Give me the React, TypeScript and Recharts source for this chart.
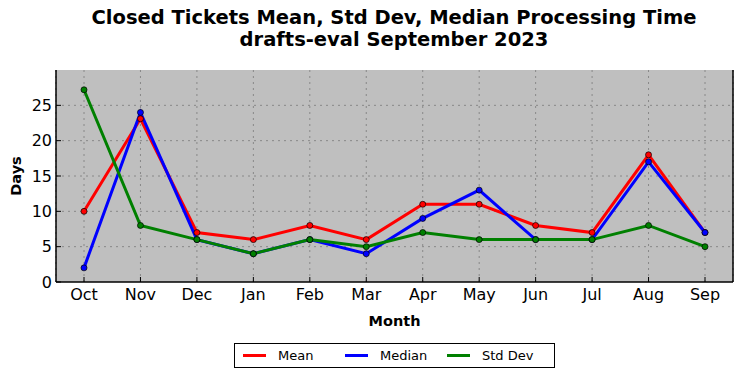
import React from 'react';
import { LineChart, Line, XAxis, YAxis, CartesianGrid, Legend } from 'recharts';

const months = ['Oct', 'Nov', 'Dec', 'Jan', 'Feb', 'Mar', 'Apr', 'May', 'Jun', 'Jul', 'Aug', 'Sep'];
const meanDays = [10, 23.1, 7, 6, 8, 6, 11, 11, 8, 7, 18, 7];
const medianDays = [2, 24, 6, 4, 6, 4, 9, 13, 6, 6, 17, 7];
const stdDevDays = [27.2, 8, 6, 4, 6, 5, 7, 6, 6, 6, 8, 5];
const yTicks = [0, 5, 10, 15, 20, 25];

const data = months.map((month, i) => ({
  month,
  mean: meanDays[i],
  median: medianDays[i],
  std: stdDevDays[i],
}));

const font = '"DejaVu Sans", sans-serif';

const series = [
  { key: 'mean', name: 'Mean', color: '#ff0000' },
  { key: 'median', name: 'Median', color: '#0000ff' },
  { key: 'std', name: 'Std Dev', color: '#008000' },
];

const LegendBox = () => (
  <div
    style={{
      border: '1px solid #000',
      background: '#fff',
      height: 25,
      display: 'flex',
      alignItems: 'center',
      fontFamily: font,
      fontSize: 13,
      boxSizing: 'border-box',
      whiteSpace: 'nowrap',
      paddingLeft: 8,
    }}
  >
    {series.map((s, i) => (
      <div key={s.key} style={{ display: 'flex', alignItems: 'center', width: i < 2 ? 102 : 100 }}>
        <div style={{ width: 23, height: 3, background: s.color, marginRight: 12 }} />
        <span>{s.name}</span>
      </div>
    ))}
  </div>
);

const App: React.FC = () => {
  return (
    <div style={{ position: 'absolute', left: 0, top: 0, width: 742, height: 378, background: '#fff' }}>
      <div
        style={{
          position: 'absolute',
          left: 56,
          width: 676,
          top: 7,
          textAlign: 'center',
          fontFamily: font,
          fontWeight: 'bold',
          fontSize: 19.5,
          lineHeight: '22px',
        }}
      >
        Closed Tickets Mean, Std Dev, Median Processing Time
        <br />
        drafts-eval September 2023
      </div>
      <LineChart
        width={742}
        height={378}
        data={data}
        margin={{ top: 70, right: 9, left: 0, bottom: 52 }}
        style={{ fontFamily: font }}
      >
        <CartesianGrid
          fill='#bfbfbf'
          stroke='#888'
          strokeDasharray='2 4'
          horizontalValues={[5, 10, 15, 20, 25]}
        />
        <XAxis
          dataKey='month'
          padding={{ left: 28, right: 28 }}
          height={44}
          axisLine={{ stroke: '#000', strokeWidth: 1.5 }}
          tickLine={{ stroke: '#000' }}
          tickSize={-5}
          tickMargin={12}
          tick={{ fill: '#000', fontSize: 16 }}
          interval={0}
          label={{ value: 'Month', position: 'insideBottom', offset: 0, fill: '#000', fontSize: 14.5, fontWeight: 'bold' }}
        />
        <XAxis
          xAxisId='top'
          dataKey='month'
          orientation='top'
          padding={{ left: 28, right: 28 }}
          height={0}
          mirror
          tick={false}
          tickSize={5}
          axisLine={{ stroke: '#000', strokeWidth: 1.5 }}
          tickLine={{ stroke: '#000' }}
          interval={0}
        />
        <YAxis
          domain={[0, 30]}
          ticks={yTicks}
          width={56}
          axisLine={{ stroke: '#000', strokeWidth: 1.5 }}
          tickLine={{ stroke: '#000' }}
          tickSize={-5}
          tickMargin={9}
          tick={{ fill: '#000', fontSize: 16 }}
          label={{ value: 'Days', angle: -90, position: 'insideLeft', offset: 16, fill: '#000', fontSize: 14.5, fontWeight: 'bold', style: { textAnchor: 'middle' } }}
        />
        <YAxis
          yAxisId='right'
          orientation='right'
          domain={[0, 30]}
          ticks={yTicks}
          width={1}
          mirror
          tick={false}
          tickSize={5}
          axisLine={{ stroke: '#000', strokeWidth: 1.5 }}
          tickLine={{ stroke: '#000' }}
        />
        <Legend
          layout='horizontal'
          verticalAlign='middle'
          align='center'
          content={() => <LegendBox />}
          wrapperStyle={{ position: 'absolute', left: 234, top: 343, width: 321, height: 25 }}
        />
        {series.map((s) => (
          <Line
            key={s.key}
            type='linear'
            dataKey={s.key}
            name={s.name}
            stroke={s.color}
            strokeWidth={3}
            dot={{ r: 3, fill: s.color, stroke: '#000', strokeWidth: 0.7 }}
            activeDot={false}
            isAnimationActive={false}
          />
        ))}
      </LineChart>
    </div>
  );
};

export default App;
